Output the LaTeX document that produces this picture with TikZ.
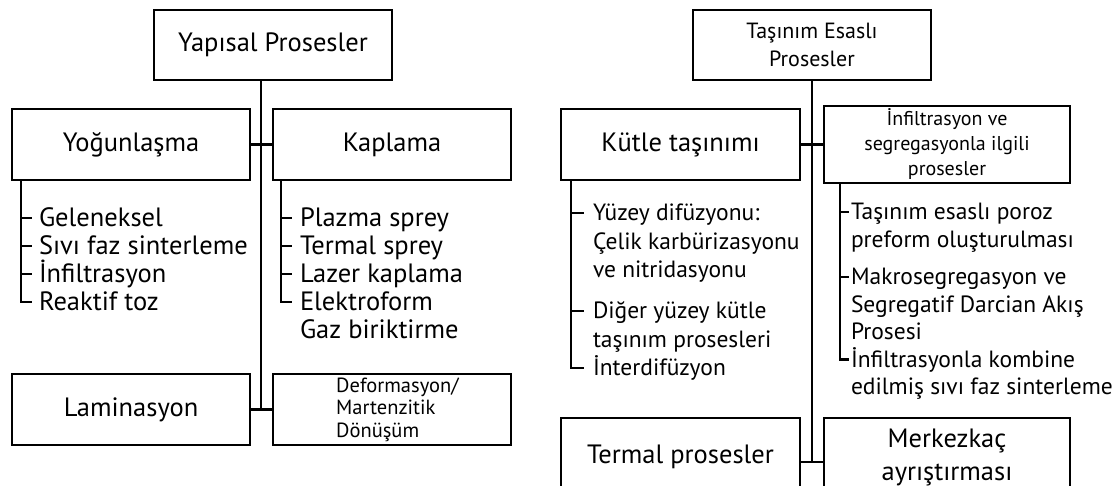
\documentclass[tikz,border=0pt]{standalone}
\usepackage{fontspec}
\setmainfont{PT Sans}
\usetikzlibrary{calc}

\newcommand{\fsz}[2]{\fontsize{#1}{#2}\selectfont}

\tikzset{
  box/.style={draw, line width=2.5pt, inner sep=0pt, outer sep=0pt, align=center},
  head/.style={font=\fsz{26.5}{33}},
  item/.style={anchor=base west, inner sep=0pt, outer sep=0pt},
  bigitem/.style={item, font=\fsz{26.5}{28}},
  smallitem/.style={item, font=\fsz{23.5}{28}},
  link/.style={line width=2.3pt},
}

\begin{document}
\begin{tikzpicture}[x=1pt,y=-1pt]
\useasboundingbox (0,0) rectangle (1112,486);
\begin{scope}
\clip (0,0) rectangle (1112,486);

% ---------------- structural processes ----------------
\node[box, head, minimum width=238pt, minimum height=70pt] (yap) at (273,45) {Yapısal Prosesler};
\node[box, head, minimum width=238pt, minimum height=71pt] (yog) at (131,144.5) {Yoğunlaşma};
\node[box, head, minimum width=238pt, minimum height=71pt] (kap) at (392,144.5) {Kaplama};
\node[box, head, minimum width=238pt, minimum height=71pt] (lam) at (131,409.5) {Laminasyon};
\node[box, minimum width=238pt, minimum height=71pt] (def) at (392,409.5) {};
\node[anchor=west, align=left, inner sep=0pt, font=\fsz{20.5}{22.5}] (deftxt) at (336,409.5)
  {Deformasyon/\\Martenzitik\\Dönüşüm};

\coordinate (lx) at (261,0);
\draw[link] (lx |- yap.south) -- (lx |- lam.east);
\draw[link] (yog.east) -- (kap.west);
\draw[link] (lam.east) -- (def.west);

% densification methods
\node[bigitem] (g1) at (39,227) {Geleneksel};
\node[bigitem] (g2) at (39,255) {Sıvı faz sinterleme};
\node[bigitem] (g3) at (39,283) {İnfiltrasyon};
\node[bigitem] (g4) at (39,311) {Reaktif toz};
\draw[link] ($(yog.south west)+(9,0)$) |- ($(g4.base west)+(-7,-9)$);
\foreach \n in {g1,g2,g3}
  \draw[link] ($(\n.base west)+(-18,-9)$) -- ++(11,0);

% coating methods
\node[bigitem] (c1) at (300,227) {Plazma sprey};
\node[bigitem] (c2) at (300,255) {Termal sprey};
\node[bigitem] (c3) at (300,283) {Lazer kaplama};
\node[bigitem] (c4) at (300,311) {Elektroform};
\node[bigitem] (c5) at (300,339) {Gaz biriktirme};
\draw[link] ($(kap.south west)+(8,0)$) |- ($(c4.base west)+(-8,-9)$);
\foreach \n in {c1,c2,c3}
  \draw[link] ($(\n.base west)+(-19,-9)$) -- ++(11,0);

% ---------------- transport based processes ----------------
\node[box, minimum width=238pt, minimum height=70pt, font=\fsz{22}{28}] (tas) at (812,45)
  {Taşınım Esaslı\\Prosesler};
\node[box, head, minimum width=239pt, minimum height=71pt] (kut) at (680.5,144.5) {Kütle taşınımı};
\node[box, minimum width=246pt, minimum height=77pt, font=\fsz{20}{25}] (inf) at (947,144.5)
  {İnfiltrasyon ve\\segregasyonla ilgili\\prosesler};
\node[box, head, minimum width=239pt, minimum height=78pt] (ter) at (680.5,457) {Termal prosesler};
\node[box, head, minimum width=246pt, minimum height=78pt] (mer) at (947,457) {Merkezkaç\\ayrıştırması};

\coordinate (rx) at (812,0);
\draw[link] (rx |- tas.south) -- ($(rx |- ter.east)+(0,5)$);
\draw[link] (kut.east) -- (inf.west);
\draw[link] ($(ter.east)+(0,5)$) -- ($(mer.west)+(0,5)$);

% mass transport items
\node[smallitem] (k1) at (593,221) {Yüzey difüzyonu:};
\node[smallitem] (k2) at (593,249.5) {Çelik karbürizasyonu};
\node[smallitem] (k3) at (593,278) {ve nitridasyonu};
\node[smallitem] (k4) at (593,319) {Diğer yüzey kütle};
\node[smallitem] (k5) at (593,347.5) {taşınım prosesleri};
\node[smallitem] (k6) at (593,376) {İnterdifüzyon};
\draw[link] ($(kut.south west)+(10,0)$) |- ($(k6.base west)+(-9,-8)$);
\foreach \n in {k1,k4}
  \draw[link] ($(\n.base west)+(-22,-8)$) -- ++(13,0);

% infiltration and segregation items
\node[smallitem] (s1) at (851,220) {Taşınım esaslı poroz};
\node[smallitem] (s2) at (851,247.5) {preform oluşturulması};
\node[smallitem] (s3) at (851,285) {Makrosegregasyon ve};
\node[smallitem] (s4) at (851,312.5) {Segregatif Darcian Akış};
\node[smallitem] (s5) at (851,340) {Prosesi};
\node[smallitem] (s6) at (851,367.5) {İnfiltrasyonla kombine};
\node[smallitem] (s7) at (851,395) {edilmiş sıvı faz sinterleme};
\draw[link] ($(inf.south west)+(16,0)$) |- ($(s6.base west)+(-2,-8)$);
\foreach \n in {s1,s3}
  \draw[link] ($(\n.base west)+(-11,-8)$) -- ++(9,0);

\end{scope}
\end{tikzpicture}
\end{document}
